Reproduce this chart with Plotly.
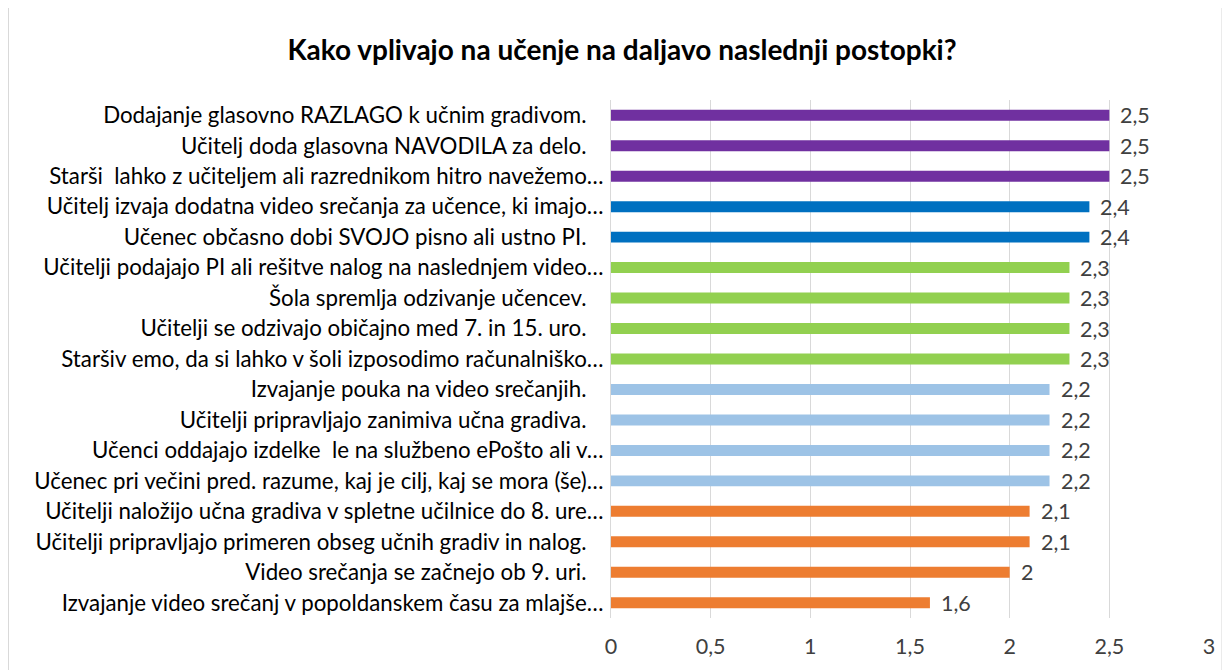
import plotly.graph_objects as go

categories = [
    "Dodajanje glasovno RAZLAGO k učnim gradivom.",
    "Učitelj doda glasovna NAVODILA za delo.",
    "Starši  lahko z učiteljem ali razrednikom hitro navežemo…",
    "Učitelj izvaja dodatna video srečanja za učence, ki imajo…",
    "Učenec občasno dobi SVOJO pisno ali ustno PI.",
    "Učitelji podajajo PI ali rešitve nalog na naslednjem video…",
    "Šola spremlja odzivanje učencev.",
    "Učitelji se odzivajo običajno med 7. in 15. uro.",
    "Staršiv emo, da si lahko v šoli izposodimo računalniško…",
    "Izvajanje pouka na video srečanjih.",
    "Učitelji pripravljajo zanimiva učna gradiva.",
    "Učenci oddajajo izdelke  le na službeno ePošto ali v…",
    "Učenec pri večini pred. razume, kaj je cilj, kaj se mora (še)…",
    "Učitelji naložijo učna gradiva v spletne učilnice do 8. ure…",
    "Učitelji pripravljajo primeren obseg učnih gradiv in nalog.",
    "Video srečanja se začnejo ob 9. uri.",
    "Izvajanje video srečanj v popoldanskem času za mlajše…",
]
values = [2.5, 2.5, 2.5, 2.4, 2.4, 2.3, 2.3, 2.3, 2.3, 2.2, 2.2, 2.2, 2.2, 2.1, 2.1, 2.0, 1.6]
value_labels = ["2,5", "2,5", "2,5", "2,4", "2,4", "2,3", "2,3", "2,3", "2,3",
                "2,2", "2,2", "2,2", "2,2", "2,1", "2,1", "2", "1,6"]
bar_colors = (["#7030A0"] * 3 + ["#0070C0"] * 2 + ["#92D050"] * 4 +
              ["#9DC3E6"] * 4 + ["#ED7D31"] * 4)
x_ticks = [0, 0.5, 1, 1.5, 2, 2.5, 3]
x_tick_labels = ["0", "0,5", "1", "1,5", "2", "2,5", "3"]

font_family = "Lato, 'Liberation Sans', sans-serif"

# untruncated labels get trailing padding, as in the original chart
tick_text = [c if c.endswith("…") else c + "\u00a0\u00a0\u00a0" for c in categories]

fig = go.Figure(go.Bar(
    x=values, y=categories, orientation="h",
    marker=dict(color=bar_colors, line=dict(width=0)),
    hoverinfo="x+y",
))

for v, c, lab in zip(values, categories, value_labels):
    fig.add_annotation(x=v, y=c, text=lab, showarrow=False,
                       xanchor="left", yanchor="middle", xshift=9,
                       font=dict(size=21.5, color="#404040", family=font_family))

fig.update_layout(
    width=1222, height=662,
    paper_bgcolor="white", plot_bgcolor="white",
    margin=dict(l=603, r=21, t=92, b=52, autoexpand=False),
    bargap=0.64,
    showlegend=False,
    title=dict(text="<b>Kako vplivajo na učenje na daljavo naslednji postopki?</b>",
               x=614 / 1222, xref="container", xanchor="center",
               y=1 - 42 / 662, yref="container", yanchor="middle",
               font=dict(size=28, color="#000000", family=font_family)),
    xaxis=dict(range=[0, 3], tickvals=x_ticks, ticktext=x_tick_labels,
               showgrid=True, gridcolor="#D9D9D9", gridwidth=1, automargin=False,
               zeroline=False, showline=False, ticks="", ticklabelstandoff=13,
               tickfont=dict(size=21.5, color="#404040", family=font_family)),
    yaxis=dict(autorange="reversed", showgrid=False, zeroline=False, automargin=False,
               showline=True, linecolor="#D9D9D9", linewidth=1,
               tickvals=categories, ticktext=tick_text,
               ticks="", ticklabelstandoff=2,
               tickfont=dict(size=22.3, color="#000000", family=font_family)),
    shapes=[dict(type="rect", xref="paper", yref="paper",
                 x0=-1.0075, x1=1.0217, y0=-0.2, y1=(528 + 88) / 518,
                 line=dict(color="#D9D9D9", width=1), fillcolor="rgba(0,0,0,0)",
                 layer="below")],
)

fig.write_html("out.html")
